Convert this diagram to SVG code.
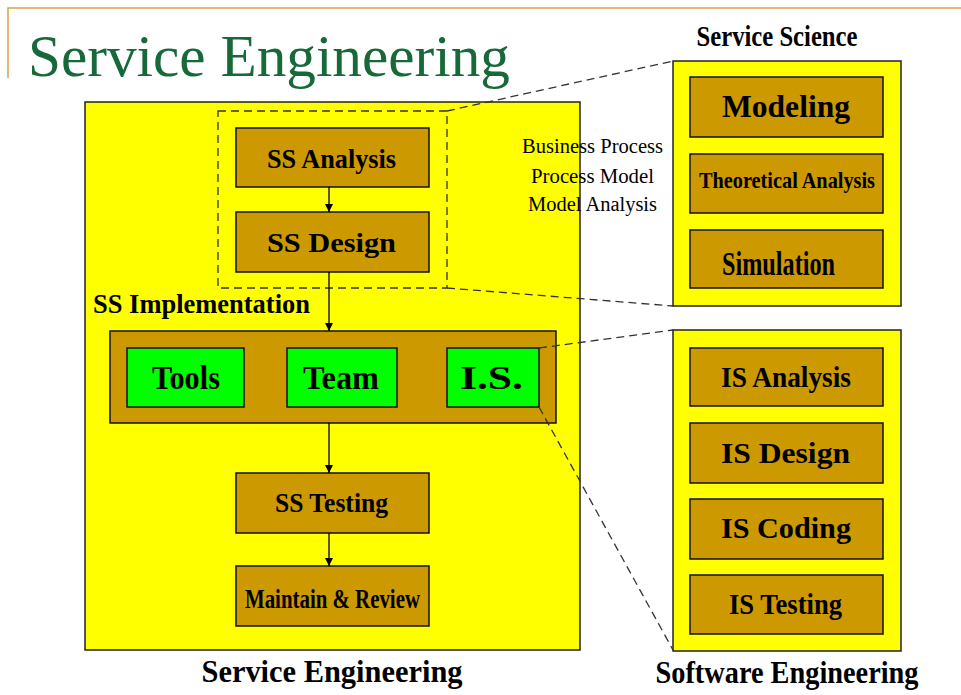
<svg xmlns="http://www.w3.org/2000/svg" width="961" height="695" viewBox="0 0 961 695">
<style>
.panel{fill:#ffff00;stroke:#222;stroke-width:1.5}
.box{fill:#cc9900;stroke:#111;stroke-width:1.5}
.gbox{fill:#00ff00;stroke:#111;stroke-width:1.5}
.lbl{font-family:"Liberation Serif",serif;font-weight:bold;fill:#000;text-anchor:middle}
.note{font-family:"Liberation Serif",serif;fill:#000;text-anchor:middle;font-size:20px}
.dash{fill:none;stroke:#333;stroke-width:1.3;stroke-dasharray:8 5}
.conn{stroke:#000;stroke-width:1.3;fill:none}
</style>
<defs>
<marker id="ah" viewBox="0 0 10 10" refX="10" refY="5" markerWidth="8" markerHeight="8" markerUnits="userSpaceOnUse" orient="auto">
<path d="M0,0 L10,5 L0,10 z" fill="#000"/>
</marker>
</defs>
<rect width="961" height="695" fill="#fff"/>
<g id="title">
<path d="M8,78 V8 H961" fill="none" stroke="#d2a54a" stroke-width="1.5"/>
<text x="28" y="76" font-family="Liberation Serif,serif" font-size="60" fill="#17693a" textLength="482" lengthAdjust="spacingAndGlyphs">Service Engineering</text>
</g>
<g id="service-engineering">
<rect class="panel" x="85" y="102" width="495" height="548"/>
<text class="lbl" x="332" y="682" font-size="32" textLength="261" lengthAdjust="spacingAndGlyphs">Service Engineering</text>
</g>
<g id="service-science">
<rect class="panel" x="673" y="61" width="228" height="245"/>
<text class="lbl" x="777" y="46" font-size="30" textLength="161" lengthAdjust="spacingAndGlyphs">Service Science</text>
</g>
<g id="software-engineering">
<rect class="panel" x="673" y="330" width="228" height="321"/>
<text class="lbl" x="787" y="683" font-size="32" textLength="263" lengthAdjust="spacingAndGlyphs">Software Engineering</text>
</g>
<g id="ss-scope">
<rect class="dash" x="218" y="111" width="229" height="177"/>
</g>
<g id="ss-analysis">
<rect class="box" x="236" y="128" width="193" height="59"/>
<text class="lbl" x="331.5" y="168" font-size="28" textLength="129" lengthAdjust="spacingAndGlyphs">SS Analysis</text>
</g>
<g id="ss-design">
<rect class="box" x="236" y="212" width="193" height="60"/>
<text class="lbl" x="331.5" y="252" font-size="28" textLength="129" lengthAdjust="spacingAndGlyphs">SS Design</text>
</g>
<g id="ss-implementation-label">
<text class="lbl" x="201.5" y="313" font-size="28" textLength="217" lengthAdjust="spacingAndGlyphs" text-anchor="middle">SS Implementation</text>
</g>
<g id="ss-implementation">
<rect class="box" x="110" y="331" width="446" height="92"/>
</g>
<g id="tools">
<rect class="gbox" x="127" y="348" width="117" height="59"/>
<text class="lbl" x="186" y="389" font-size="34" textLength="68" lengthAdjust="spacingAndGlyphs">Tools</text>
</g>
<g id="team">
<rect class="gbox" x="287" y="348" width="110" height="59"/>
<text class="lbl" x="341" y="389" font-size="34" textLength="76" lengthAdjust="spacingAndGlyphs">Team</text>
</g>
<g id="is">
<rect class="gbox" x="447" y="348" width="92" height="59"/>
<text class="lbl" x="491.5" y="389" font-size="34" textLength="63" lengthAdjust="spacingAndGlyphs">I.S.</text>
</g>
<g id="ss-testing">
<rect class="box" x="236" y="473" width="193" height="60"/>
<text class="lbl" x="331.5" y="512" font-size="27" textLength="113" lengthAdjust="spacingAndGlyphs">SS Testing</text>
</g>
<g id="maintain-review">
<rect class="box" x="236" y="566" width="193" height="60"/>
<text class="lbl" x="332.5" y="608" font-size="28" textLength="175" lengthAdjust="spacingAndGlyphs">Maintain &amp; Review</text>
</g>
<g id="business-notes">
<text class="note" x="592.5" y="153" textLength="141" lengthAdjust="spacingAndGlyphs">Business Process</text>
<text class="note" x="592.5" y="183" textLength="123" lengthAdjust="spacingAndGlyphs">Process Model</text>
<text class="note" x="592.5" y="211" textLength="129" lengthAdjust="spacingAndGlyphs">Model Analysis</text>
</g>
<g id="modeling">
<rect class="box" x="690" y="77" width="193" height="60"/>
<text class="lbl" x="786" y="117" font-size="32" textLength="128" lengthAdjust="spacingAndGlyphs">Modeling</text>
</g>
<g id="theoretical-analysis">
<rect class="box" x="690" y="154" width="193" height="59"/>
<text class="lbl" x="787" y="188" font-size="23" textLength="176" lengthAdjust="spacingAndGlyphs">Theoretical Analysis</text>
</g>
<g id="simulation">
<rect class="box" x="690" y="230" width="193" height="58"/>
<text class="lbl" x="778.5" y="275" font-size="33" textLength="113" lengthAdjust="spacingAndGlyphs">Simulation</text>
</g>
<g id="is-analysis">
<rect class="box" x="690" y="348" width="193" height="58"/>
<text class="lbl" x="786" y="387" font-size="30" textLength="130" lengthAdjust="spacingAndGlyphs">IS Analysis</text>
</g>
<g id="is-design">
<rect class="box" x="690" y="423" width="193" height="60"/>
<text class="lbl" x="785.5" y="463" font-size="30" textLength="129" lengthAdjust="spacingAndGlyphs">IS Design</text>
</g>
<g id="is-coding">
<rect class="box" x="690" y="499" width="193" height="60"/>
<text class="lbl" x="786" y="538" font-size="30" textLength="130" lengthAdjust="spacingAndGlyphs">IS Coding</text>
</g>
<g id="is-testing">
<rect class="box" x="690" y="575" width="193" height="59"/>
<text class="lbl" x="785.5" y="614" font-size="30" textLength="113" lengthAdjust="spacingAndGlyphs">IS Testing</text>
</g>
<g id="connectors">
<line class="conn" x1="329" y1="187" x2="329" y2="212" marker-end="url(#ah)"/>
<line class="conn" x1="329" y1="272" x2="329" y2="331" marker-end="url(#ah)"/>
<line class="conn" x1="329" y1="423" x2="329" y2="473" marker-end="url(#ah)"/>
<line class="conn" x1="329" y1="533" x2="329" y2="566" marker-end="url(#ah)"/>
<line class="dash" x1="447" y1="111" x2="673" y2="61"/>
<line class="dash" x1="447" y1="288" x2="673" y2="306"/>
<line class="dash" x1="539" y1="348" x2="673" y2="330"/>
<line class="dash" x1="539" y1="407" x2="673" y2="650"/>
</g>
</svg>
